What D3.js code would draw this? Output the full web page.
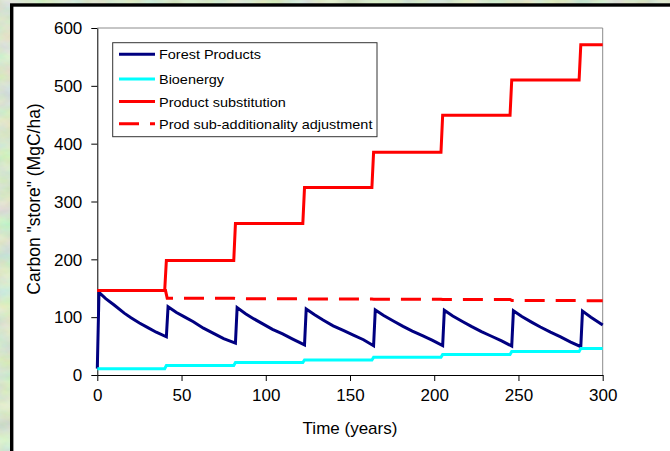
<!DOCTYPE html>
<html>
<head>
<meta charset="utf-8">
<script src="https://cdn.jsdelivr.net/npm/d3@7"></script>
<style>
  html, body { margin: 0; padding: 0; background: #b4d2a0; overflow: hidden; }
  svg { display: block; }
  text { font-family: "Liberation Sans", Arial, sans-serif; fill: #000; }
</style>
</head>
<body>
<svg id="chart" width="670" height="451"></svg>
<script>
// Carbon stored per hectare over a 300-year rotation sequence
const xTicks = [0, 50, 100, 150, 200, 250, 300];
const yTicks = [0, 100, 200, 300, 400, 500, 600];
const seriesNames = ["Forest Products", "Bioenergy", "Product substitution", "Prod sub-additionality adjustment"];

// [year, MgC/ha]
const forestProducts = [
  [0, 11], [1, 143], [5, 132], [10, 121], [16, 107], [20, 99], [25, 90], [30, 82], [35, 74], [41, 66],
  [42, 118], [47, 108], [52, 100], [57, 92], [63, 81], [69, 72], [75, 63], [82, 55],
  [83, 116.5], [88, 106], [93, 97], [98.5, 88], [104, 79], [110, 71], [116, 62], [123, 52],
  [124, 114], [129, 104], [134, 95], [140, 85], [146, 77], [152, 69], [158, 61], [164, 50.5],
  [165, 112.5], [170, 103], [176, 93], [181.5, 84], [187, 76], [193, 68], [199, 60], [205, 51],
  [206, 112], [211, 102], [217, 92], [222, 84], [228, 75], [234, 67], [240, 59], [246, 50],
  [247, 111], [252, 101], [258, 91], [263, 83], [269, 74], [275, 66], [281, 57], [287, 49],
  [288, 110.5], [293, 100], [300, 86.5]
];
const bioenergy = [
  [0, 11], [40, 11], [41, 16.5], [81, 16.5], [82, 21.5], [122, 21.5], [123, 26], [163, 26],
  [164, 30.5], [204, 30.5], [205, 35.5], [245, 35.5], [246, 40.5], [286, 40.5], [287, 46], [300, 46]
];
const productSubstitution = [
  [0, 146], [40, 146], [41, 198], [81, 198], [82, 262], [122, 262], [123, 324], [163, 324],
  [164, 385], [204, 385], [205, 449], [245, 449], [246, 510], [286, 510], [287, 571], [300, 571]
];
const additionalityAdjusted = [
  [0, 146], [40.5, 146], [41.5, 132.5], [81, 132.5], [82, 132], [122, 132], [123, 131.5], [163, 131.5],
  [164, 131], [204, 131], [205, 130.5], [245, 130.5], [246, 129], [286, 129], [287, 128.5], [300, 128.5]
];

const svg = d3.select("#chart");

// mottled green backdrop
const defs = svg.append("defs");
const f = defs.append("filter").attr("id", "mottle").attr("x", 0).attr("y", 0).attr("width", "100%").attr("height", "100%");
f.append("feTurbulence").attr("type", "fractalNoise").attr("baseFrequency", "0.035 0.06").attr("numOctaves", 4).attr("seed", 7).attr("result", "n");
f.append("feColorMatrix").attr("in", "n").attr("type", "matrix")
  .attr("values", "0.45 0 0 0 0.48  0 0.35 0 0 0.64  0 0 0.45 0 0.42  0 0 0 0 1");
svg.append("rect").attr("width", 670).attr("height", 451).attr("fill", "#b4d2a0");
svg.append("rect").attr("width", 670).attr("height", 451).attr("filter", "url(#mottle)").attr("opacity", 0.9);

// white panel with heavy black border
svg.append("rect")
  .attr("x", 11.7).attr("y", 5).attr("width", 700).attr("height", 500)
  .attr("fill", "#fff").attr("stroke", "#000").attr("stroke-width", 3.4);

const x = d3.scaleLinear().domain([0, 300]).range([97.3, 602.7]);
const y = d3.scaleLinear().domain([0, 600]).range([375, 28]);

// plot frame: grey top/right edges
svg.append("line").attr("x1", x(0)).attr("x2", x(300)).attr("y1", y(600)).attr("y2", y(600))
  .attr("stroke", "#8c8c8c").attr("stroke-width", 1);
svg.append("line").attr("x1", x(300)).attr("x2", x(300)).attr("y1", y(600)).attr("y2", y(0))
  .attr("stroke", "#8c8c8c").attr("stroke-width", 1);

const yAxis = svg.append("g").attr("transform", `translate(${x(0)},0)`)
  .call(d3.axisLeft(y).tickValues(yTicks).tickSize(6).tickSizeOuter(0).tickPadding(9));
const xAxis = svg.append("g").attr("transform", `translate(0,${y(0)})`)
  .call(d3.axisBottom(x).tickValues(xTicks).tickSize(6).tickSizeOuter(0).tickPadding(8));
[yAxis, xAxis].forEach(g => {
  g.selectAll("path, line").attr("stroke", "#000").attr("stroke-width", 1);
  g.selectAll("text").style("font-size", "17px").attr("fill", "#000");
});
yAxis.selectAll("text").attr("dy", "0.34em");

// axis titles
svg.append("text").attr("x", 350).attr("y", 434).attr("text-anchor", "middle")
  .style("font-size", "17px").text("Time (years)");
svg.append("text").attr("transform", "translate(39.5,199) rotate(-90)").attr("text-anchor", "middle")
  .style("font-size", "17.5px").text('Carbon "store" (MgC/ha)');

// series
const line = d3.line().x(d => x(d[0])).y(d => y(d[1]));
const styles = [
  { data: forestProducts, color: "#000080", dash: null },
  { data: bioenergy, color: "#00ffff", dash: null },
  { data: productSubstitution, color: "#ff0000", dash: null },
  { data: additionalityAdjusted, color: "#ff0000", dash: "20,11" }
];
svg.append("g").selectAll("path").data(styles).join("path")
  .attr("d", d => line(d.data))
  .attr("fill", "none")
  .attr("stroke", d => d.color)
  .attr("stroke-width", 3)
  .attr("stroke-linejoin", "miter")
  .attr("stroke-dasharray", d => d.dash);

// legend
const legend = svg.append("g");
legend.append("rect").attr("x", 112.7).attr("y", 42.7).attr("width", 264.3).attr("height", 94)
  .attr("fill", "#fff").attr("stroke", "#333").attr("stroke-width", 1);
const rowY = [54.3, 79, 101.5, 123.8];
const rows = legend.selectAll("g.row").data(styles).join("g").attr("class", "row")
  .attr("transform", (d, i) => `translate(0,${rowY[i]})`);
rows.append("line").attr("x1", 119).attr("x2", 155).attr("y1", 0).attr("y2", 0)
  .attr("stroke", d => d.color).attr("stroke-width", 3)
  .attr("stroke-dasharray", d => d.dash);
rows.append("text").attr("transform", "translate(159,5) scale(1.07,1)")
  .style("font-size", "13.5px").text((d, i) => seriesNames[i]);
</script>
</body>
</html>
